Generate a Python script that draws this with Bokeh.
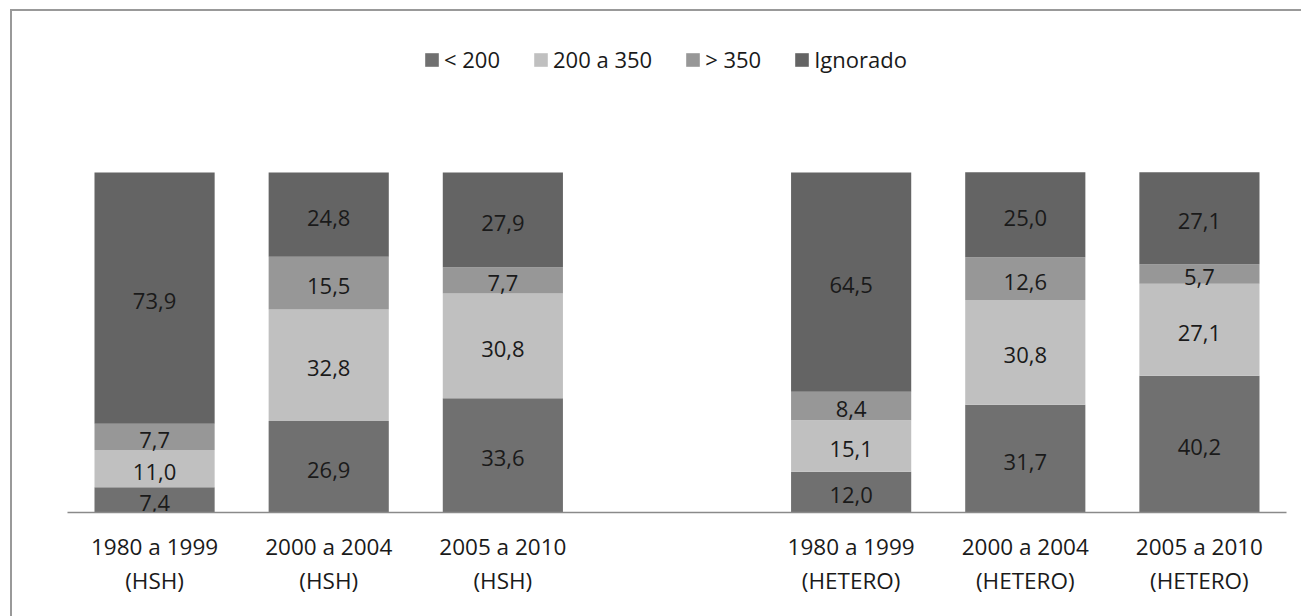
from bokeh.plotting import figure
from bokeh.models import ColumnDataSource, Range1d, FixedTicker, Legend, GlobalInlineStyleSheet
from bokeh.core.properties import value
from bokeh.embed import file_html
from bokeh.resources import INLINE

categories = ["1980 a 1999\n(HSH)", "2000 a 2004\n(HSH)", "2005 a 2010\n(HSH)",
              "1980 a 1999\n(HETERO)", "2000 a 2004\n(HETERO)", "2005 a 2010\n(HETERO)"]
series = ["< 200", "200 a 350", "> 350", "Ignorado"]
lt200 = [7.4, 26.9, 33.6, 12.0, 31.7, 40.2]
a200_350 = [11.0, 32.8, 30.8, 15.1, 30.8, 27.1]
gt350 = [7.7, 15.5, 7.7, 8.4, 12.6, 5.7]
ignorado = [73.9, 24.8, 27.9, 64.5, 25.0, 27.1]
colors = ["#707070", "#c0c0c0", "#979797", "#646464"]

FONT = "Open Sans"
xpos = [i if i < 3 else i + 1 for i in range(len(categories))]

keys = ["s0", "s1", "s2", "s3"]
vals = [lt200, a200_350, gt350, ignorado]
data = {"x": xpos}
for k, v in zip(keys, vals):
    data[k] = v
src = ColumnDataSource(data)

# left and top edges of the chart-area border (right/bottom edges lie off-page)
border_css = GlobalInlineStyleSheet(css="""
body::before { content: ""; position: fixed; left: 10px; top: 9px;
  width: 2px; height: 700px; background: #999999; pointer-events: none; z-index: 10; }
body::after { content: ""; position: fixed; left: 10px; top: 9px;
  width: 1291px; height: 2px; background: #999999; pointer-events: none; z-index: 10; }
""")

p = figure(width=1280, height=600, output_backend="svg", toolbar_location=None,
           x_range=Range1d(-0.5, 6.5), y_range=Range1d(0, 137.94),
           min_border_left=55, min_border_right=6, min_border_top=32,
           min_border_bottom=99, outline_line_color=None,
           margin=(11, 0, 0, 12), stylesheets=[border_css])

renderers = p.vbar_stack(keys, x="x", width=0.69, source=src,
                         fill_color=colors, line_color=None)

lx, ly, lt = [], [], []
for i in range(len(categories)):
    base = 0.0
    for v in vals:
        seg = v[i]
        lx.append(xpos[i])
        ly.append(base + seg / 2.0)
        lt.append(f"{seg:.1f}".replace(".", ","))
        base += seg
p.text(x=lx, y=ly, text=lt, text_font=value(FONT), text_font_size="22px",
       text_align="center", text_baseline="middle", text_color="#1a1a1a",
       y_offset=3)

legend = Legend(items=[(s, [r]) for s, r in zip(series, renderers)],
                location=(356, 438), orientation="horizontal",
                glyph_width=17, glyph_height=17, label_standoff=4, spacing=32,
                padding=0, margin=0, border_line_color=None, background_fill_alpha=0,
                label_text_font=FONT, label_text_font_size="22px",
                label_text_color="#1a1a1a")
p.add_layout(legend)

p.yaxis.visible = False
p.xgrid.grid_line_color = None
p.ygrid.grid_line_color = None
ax = p.xaxis[0]
ax.ticker = FixedTicker(ticks=xpos)
ax.major_label_overrides = {x: c for x, c in zip(xpos, categories)}
ax.major_tick_line_color = None
ax.minor_tick_line_color = None
ax.major_tick_out = 0
ax.major_tick_in = 0
ax.axis_line_color = "#8a8a8a"
ax.axis_line_width = 1.5
ax.major_label_standoff = 18
ax.major_label_text_font = FONT
ax.major_label_text_font_size = "22.5px"
ax.major_label_text_color = "#1a1a1a"
ax.major_label_text_line_height = 1.1

open("out.html", "w").write(file_html(p, INLINE))
